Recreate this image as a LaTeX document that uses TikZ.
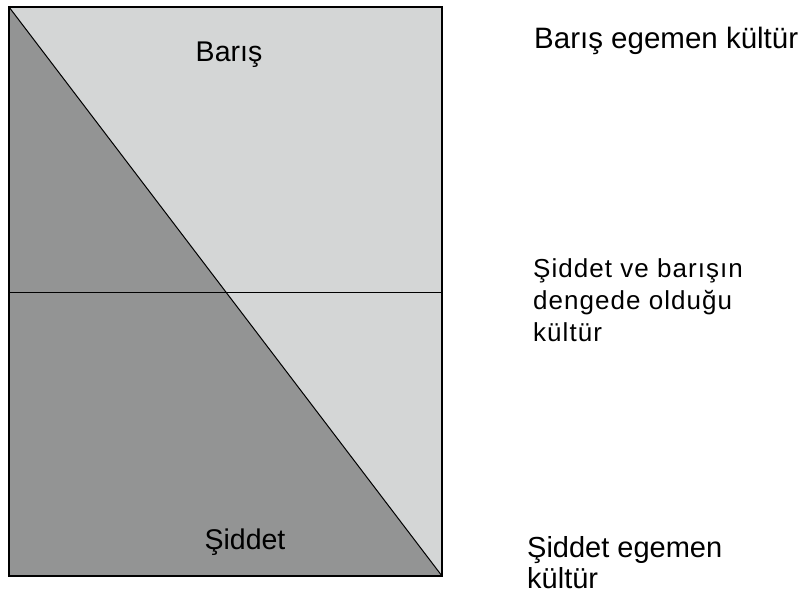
\documentclass[tikz,border=0pt]{standalone}
\usepackage{fontspec}
\setmainfont{Liberation Sans}
\newfontfamily\spacedfont[LetterSpace=4]{Liberation Sans}
\definecolor{darkg}{HTML}{939494}
\definecolor{lightg}{HTML}{D4D6D6}
\begin{document}
\begin{tikzpicture}[x=1pt,y=-1pt,
  lbl/.style={font=\fontsize{29.5}{31}\selectfont, inner sep=0pt, anchor=base west, align=left},
  inlbl/.style={font=\fontsize{28.5}{31}\selectfont, inner sep=0pt, anchor=base}]
\useasboundingbox (0,0) rectangle (802,597);
\coordinate (TL) at (9,7);
\coordinate (TR) at (442,7);
\coordinate (BR) at (442,576);
\coordinate (BL) at (9,576);
\coordinate (ML) at (9,292);
\coordinate (MR) at (442,292);
\fill[lightg] (TL) -- (TR) -- (BR) -- cycle;
\fill[darkg] (TL) -- (BR) -- (BL) -- cycle;
\draw[line width=1pt] (TL) -- (BR);
\draw[line width=1pt] (ML) -- (MR);
\draw[line width=1.2pt] (TL) rectangle (BR);
\node[inlbl] (baris) at (229,61) {Barış};
\node[inlbl] (siddet) at (245,549) {Şiddet};
\node[lbl] (top) at (534,48) {Barış egemen kültür};
\node[lbl, font=\spacedfont\fontsize{26}{32}\selectfont] (mid) at (533,341) {Şiddet ve barışın\\dengede olduğu\\kültür};
\node[lbl, font=\fontsize{29}{31}\selectfont] (bot) at (527,588) {Şiddet egemen\\kültür};
\end{tikzpicture}
\end{document}
